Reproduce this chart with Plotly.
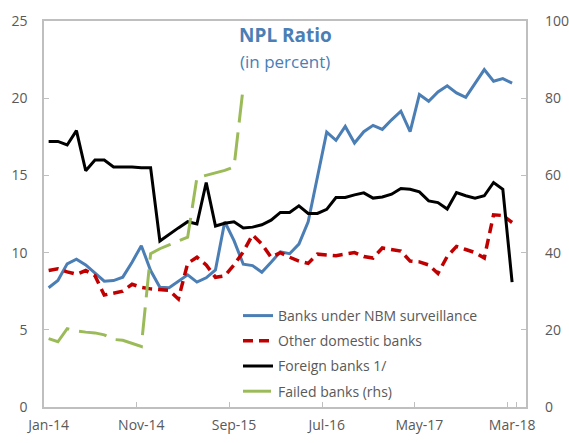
import plotly.graph_objects as go

months = ["Jan", "Feb", "Mar", "Apr", "May", "Jun", "Jul", "Aug", "Sep", "Oct", "Nov", "Dec"]
categories = [f"{months[m]}-{y}" for y in range(14, 19) for m in range(12)][:52]  # Jan-14 .. Apr-18
data_cats = categories[:51]  # data to Mar-18

nbm = [7.72, 8.19, 9.27, 9.57, 9.2, 8.7, 8.15, 8.19, 8.41, 9.38,
       10.45, 8.84, 7.76, 7.72, 8.13, 8.56, 8.09, 8.37, 8.88, 12.0,
       10.77, 9.25, 9.16, 8.73, 9.37, 10.05, 9.93, 10.55, 12.0, 14.9,
       17.8, 17.27, 18.17, 17.1, 17.83, 18.24, 17.98, 18.6, 19.16, 17.83,
       20.24, 19.8, 20.4, 20.8, 20.34, 20.06, 20.98, 21.85, 21.1, 21.27,
       20.98]
other_domestic = [8.84, 8.95, 8.75, 8.6, 8.84, 8.5, 7.25, 7.4, 7.5, 7.95,
                  7.75, 7.65, 7.6, 7.55, 7.0, 9.3, 9.7, 9.2, 8.4, 8.5,
                  9.2, 10.05, 11.15, 10.55, 9.7, 10.0, 9.7, 9.45, 9.3, 9.9,
                  9.85, 9.8, 9.9, 10.0, 9.75, 9.65, 10.3, 10.2, 10.1, 9.45,
                  9.4, 9.2, 8.65, 9.75, 10.4, 10.2, 10.0, 9.65, 12.45, 12.4,
                  11.95]
foreign = [17.2, 17.2, 16.97, 17.9, 15.3, 16.0, 16.0, 15.55, 15.55, 15.55,
           15.5, 15.5, 10.75, 11.2, 11.6, 12.0, 11.85, 14.54, 11.72, 11.9,
           12.0, 11.6, 11.65, 11.8, 12.1, 12.6, 12.6, 13.03, 12.54, 12.54,
           12.8, 13.57, 13.57, 13.74, 13.87, 13.53, 13.6, 13.78, 14.15, 14.1,
           13.93, 13.35, 13.24, 12.82, 13.89, 13.68, 13.53, 13.68, 14.54, 14.1,
           8.09]
failed_rhs = [17.7, 16.9, 20.3, 19.7, 19.4, 19.2, 18.7, 17.5, 17.3, 16.6,
              15.7, 39.7, 41.0, 42.0, 43.1, 44.0, 59.4, 60.0, 60.7, 61.3,
              62.2, 83.0]
failed_cats = data_cats[:len(failed_rhs)]

tick_labels = ["Jan-14", "Nov-14", "Sep-15", "Jul-16", "May-17", "Mar-18"]

BLUE = "#4A7EB5"
RED = "#C00000"
GREEN = "#9BBB59"
AXIS = "#BFBFBF"
TXT = "#595959"
FONT = "Open Sans"

PLOT_L, PLOT_R, PLOT_T, PLOT_B = 44, 526, 21, 407
W, H = 569, 443


def px_to_paper_x(px):
    return (px - PLOT_L) / (PLOT_R - PLOT_L)


def px_to_paper_y(py):
    return (PLOT_B - py) / (PLOT_B - PLOT_T)


fig = go.Figure()
fig.add_trace(go.Scatter(x=data_cats, y=nbm, mode="lines", name="Banks under NBM surveillance",
                         line=dict(color=BLUE, width=3), legendgroup="a"))
fig.add_trace(go.Scatter(x=data_cats, y=other_domestic, mode="lines", name="Other domestic banks",
                         line=dict(color=RED, width=3.5, dash="10px,6px"), legendgroup="b"))
fig.add_trace(go.Scatter(x=data_cats, y=foreign, mode="lines", name="Foreign banks 1/",
                         line=dict(color="#000000", width=3), legendgroup="c"))
fig.add_trace(go.Scatter(x=failed_cats, y=failed_rhs, mode="lines", name="Failed banks (rhs)",
                         line=dict(color=GREEN, width=3, dash="28px,10px"), legendgroup="d",
                         yaxis="y2"))

fig.update_layout(
    width=W, height=H,
    margin=dict(l=PLOT_L, r=W - PLOT_R, t=PLOT_T, b=H - PLOT_B, autoexpand=False),
    paper_bgcolor="white", plot_bgcolor="white",
    font=dict(family=FONT, size=14, color=TXT),
    showlegend=True,
    legend=dict(x=px_to_paper_x(238), y=px_to_paper_y(300), xanchor="left", yanchor="top",
                bgcolor="rgba(0,0,0,0)", font=dict(family=FONT, size=14, color=TXT),
                traceorder="grouped", tracegroupgap=4),
    xaxis=dict(type="category", categoryorder="array", categoryarray=categories,
               range=[-0.5, 51.5], tickmode="array", tickvals=tick_labels, ticktext=tick_labels,
               tickson="boundaries", ticks="inside", ticklen=5, tickcolor=AXIS, tickangle=0,
               automargin=False,
               showline=True, linecolor=AXIS, linewidth=1.5, mirror=True,
               showgrid=False, zeroline=False, ticklabelstandoff=4,
               tickfont=dict(family=FONT, size=14, color=TXT)),
    yaxis=dict(range=[0, 25], dtick=5, tick0=0, ticks="inside", ticklen=5, tickcolor=AXIS,
               showline=True, linecolor=AXIS, linewidth=1.5, mirror=True, automargin=False,
               showgrid=False, zeroline=False, ticklabelstandoff=12,
               tickfont=dict(family=FONT, size=14, color=TXT)),
    yaxis2=dict(range=[0, 100], dtick=20, tick0=0, overlaying="y", side="right",
                ticks="inside", ticklen=5, tickcolor=AXIS, showline=False, automargin=False,
                showgrid=False, zeroline=False, ticklabelstandoff=18,
                tickfont=dict(family=FONT, size=14, color=TXT)),
    annotations=[
        dict(text="<b>NPL Ratio</b>", x=px_to_paper_x(285), xref="paper",
             y=px_to_paper_y(35), yref="paper", yanchor="middle", showarrow=False,
             font=dict(family=FONT, size=19, color=BLUE)),
        dict(text="(in percent)", x=px_to_paper_x(285), xref="paper",
             y=px_to_paper_y(61), yref="paper", yanchor="middle", showarrow=False,
             font=dict(family=FONT, size=17, color=BLUE)),
    ],
)

fig.write_html("out.html")
